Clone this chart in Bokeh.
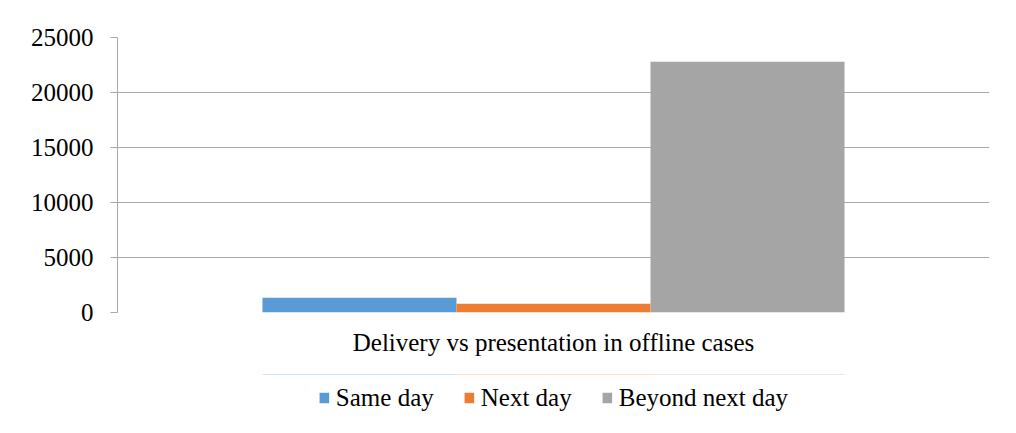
from bokeh.plotting import figure
from bokeh.layouts import column
from bokeh.models import (ColumnDataSource, FactorRange, Range1d, CategoricalAxis,
                          LinearAxis, FixedTicker, Legend, LegendItem, Grid)
from bokeh.transform import dodge
from bokeh.embed import file_html
from bokeh.resources import INLINE

categories = ["Delivery vs presentation in offline cases"]
series = ["Same day", "Next day", "Beyond next day"]
same_day = [1350]
next_day = [800]
beyond_next_day = [22800]
colors = ["#5b9bd5", "#ed7d31", "#a5a5a5"]
y_ticks = [0, 5000, 10000, 15000, 20000, 25000]

FONT = "Liberation Serif"
FS = "25px"
AXC = "#a8a8a8"

source = ColumnDataSource(dict(cat=categories, same=same_day, nxt=next_day,
                               beyond=beyond_next_day))
bw = 0.2225
keys = ["same", "nxt", "beyond"]
offsets = [-bw, 0, bw]

# ---------------- main chart ----------------
p = figure(frame_width=872, frame_height=275,
           x_range=FactorRange(factors=categories, range_padding=0),
           y_range=Range1d(0, 25000),
           output_backend="svg", toolbar_location=None,
           x_axis_location=None, y_axis_location=None,
           min_border_left=117, min_border_right=27,
           min_border_top=37, min_border_bottom=62)
p.outline_line_color = None
p.xgrid.visible = False
p.ygrid.visible = False
# category-boundary tick marks: two factors whose centres fall on the frame edges
p.extra_x_ranges = {"edges": FactorRange(factors=["left edge", "right edge"],
                                         range_padding=-1,
                                         range_padding_units="absolute")}

grid = Grid(dimension=1, ticker=FixedTicker(ticks=y_ticks),
            grid_line_color=AXC, grid_line_width=1)
p.add_layout(grid, "center")

for k, off, col in zip(keys, offsets, colors):
    p.vbar(x=dodge("cat", off, range=p.x_range), top=k, width=bw,
           source=source, fill_color=col, line_color=None)

yaxis = LinearAxis(ticker=FixedTicker(ticks=y_ticks), axis_line_color=AXC,
                   major_tick_line_color=AXC, major_tick_out=7, major_tick_in=0,
                   minor_tick_line_color=None, major_label_standoff=17,
                   major_label_text_font=FONT, major_label_text_font_size=FS,
                   major_label_text_color="black")
p.add_layout(yaxis, "left")

edge_axis = CategoricalAxis(x_range_name="edges",
                            axis_line_color=AXC, major_tick_line_color=AXC,
                            major_tick_out=7, major_tick_in=0,
                            major_label_text_font_size="1px",
                            major_label_text_color=None, major_label_standoff=0)
p.add_layout(edge_axis, "below")

xaxis = CategoricalAxis(axis_line_color=None, major_tick_line_color=None,
                        major_label_standoff=10,
                        major_label_text_font=FONT, major_label_text_font_size=FS,
                        major_label_text_color="black")
p.add_layout(xaxis, "below")

# ---------------- legend strip ----------------
# same series drawn from the same data; the y range keeps the bars out of view
lg = figure(width=1016, height=59,
            x_range=FactorRange(factors=categories, range_padding=0),
            y_range=Range1d(-2, -1),
            output_backend="svg", toolbar_location=None,
            x_axis_location=None, y_axis_location=None,
            min_border_left=22, min_border_right=0,
            min_border_top=0, min_border_bottom=12)
lg.outline_line_color = None
lg.xgrid.visible = False
lg.ygrid.visible = False

lg_renderers = []
for k, off, col in zip(keys, offsets, colors):
    r = lg.vbar(x=dodge("cat", off, range=lg.x_range), top=k, width=bw,
                source=source, fill_color=col, line_color=None)
    lg_renderers.append(r)

legend = Legend(items=[LegendItem(label=s, renderers=[r])
                       for s, r in zip(series, lg_renderers)],
                orientation="horizontal", location="center",
                label_text_font=FONT, label_text_font_size=FS,
                label_text_color="black", label_height=26,
                glyph_width=12, glyph_height=13, label_standoff=6, spacing=29,
                border_line_color=None, background_fill_alpha=0,
                padding=0, margin=0)
lg.add_layout(legend, "center")

layout = column(p, lg, spacing=0)

open("out.html", "w").write(file_html(layout, INLINE))
